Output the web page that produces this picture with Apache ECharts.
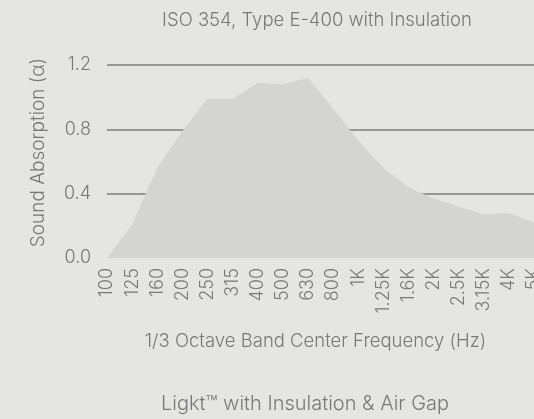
<!DOCTYPE html>
<html lang="en">
<head>
    <meta charset="UTF-8">
    <title>Sound Absorption</title>
    <style>
        html, body { margin: 0; padding: 0; background: #e5e5e4; }
    </style>
</head>
<body>
    <div id="main" style="width: 534px;height:419px;"></div>
    <script src="https://cdn.jsdelivr.net/npm/echarts@6/dist/echarts.min.js"></script>
    <script>
        // 1/3 倍频程中心频率
        var freqs = ['100', '125', '160', '200', '250', '315', '400', '500', '630', '800',
            '1K', '1.25K', '1.6K', '2K', '2.5K', '3.15K', '4K', '5K'];
        // 吸声系数
        var absorption = [0.00, 0.21, 0.56, 0.79, 0.99, 0.99, 1.09, 1.08, 1.12, 0.93,
            0.73, 0.56, 0.44, 0.37, 0.32, 0.27, 0.28, 0.22];
        var yTicks = [0, 0.4, 0.8, 1.2];

        var textColor = '#787878';
        var fontFamily = 'Inter, Roboto, sans-serif';

        var myChart = echarts.init(document.getElementById('main'));
        var option = {
            backgroundColor: '#e5e5e4',
            animation: false,
            textStyle: { fontFamily: fontFamily, fontWeight: 300 },
            grid: { left: 107, right: 0, top: 65, bottom: 161, outerBoundsMode: 'none', containLabel: false },
            xAxis: {
                type: 'category',
                data: freqs,
                boundaryGap: false,
                axisLine: { show: false },
                axisTick: { show: false },
                axisLabel: {
                    rotate: 90,
                    interval: 0,
                    margin: 10,
                    color: textColor,
                    fontSize: 18,
                    fontWeight: 300,
                    fontFamily: fontFamily,
                    padding: [0, 0, 12, 0]
                },
                name: '1/3 Octave Band Center Frequency (Hz)',
                nameLocation: 'middle',
                nameGap: 74,
                nameTextStyle: {
                    color: textColor, fontSize: 18.5, fontWeight: 300, fontFamily: fontFamily,
                    padding: [0, 10, 0, 0]
                }
            },
            yAxis: {
                type: 'value',
                min: yTicks[0],
                max: yTicks[yTicks.length - 1],
                interval: 0.4,
                axisLine: { show: false },
                axisTick: { show: false },
                axisLabel: {
                    margin: 16,
                    color: textColor,
                    fontSize: 18,
                    fontWeight: 300,
                    fontFamily: fontFamily,
                    formatter: function (v) { return v.toFixed(1); }
                },
                splitLine: {
                    lineStyle: { color: ['transparent', '#979797', '#979797', '#979797'], width: 2 }
                },
                name: 'Sound Absorption (α)',
                nameLocation: 'middle',
                nameGap: 59,
                nameTextStyle: {
                    color: textColor, fontSize: 19, fontWeight: 300, fontFamily: fontFamily,
                    padding: [0, 0, 0, 18]
                }
            },
            series: [
                {
                    type: 'line',
                    data: absorption,
                    showSymbol: false,
                    lineStyle: { width: 0 },
                    areaStyle: { color: '#d4d4d3', opacity: 1 }
                }
            ],
            graphic: {
                elements: [
                    {
                        type: 'text',
                        x: 317,
                        y: 20,
                        style: {
                            text: 'ISO 354, Type E-400 with Insulation',
                            fill: textColor,
                            font: '300 18.5px ' + fontFamily,
                            textAlign: 'center',
                            textVerticalAlign: 'middle'
                        }
                    },
                    {
                        type: 'text',
                        x: 305,
                        y: 404,
                        style: {
                            text: 'Ligkt™ with Insulation & Air Gap',
                            fill: textColor,
                            font: '300 20px ' + fontFamily,
                            textAlign: 'center',
                            textVerticalAlign: 'middle'
                        }
                    }
                ]
            }
        };

        option && myChart.setOption(option);
    </script>
</body>
</html>
